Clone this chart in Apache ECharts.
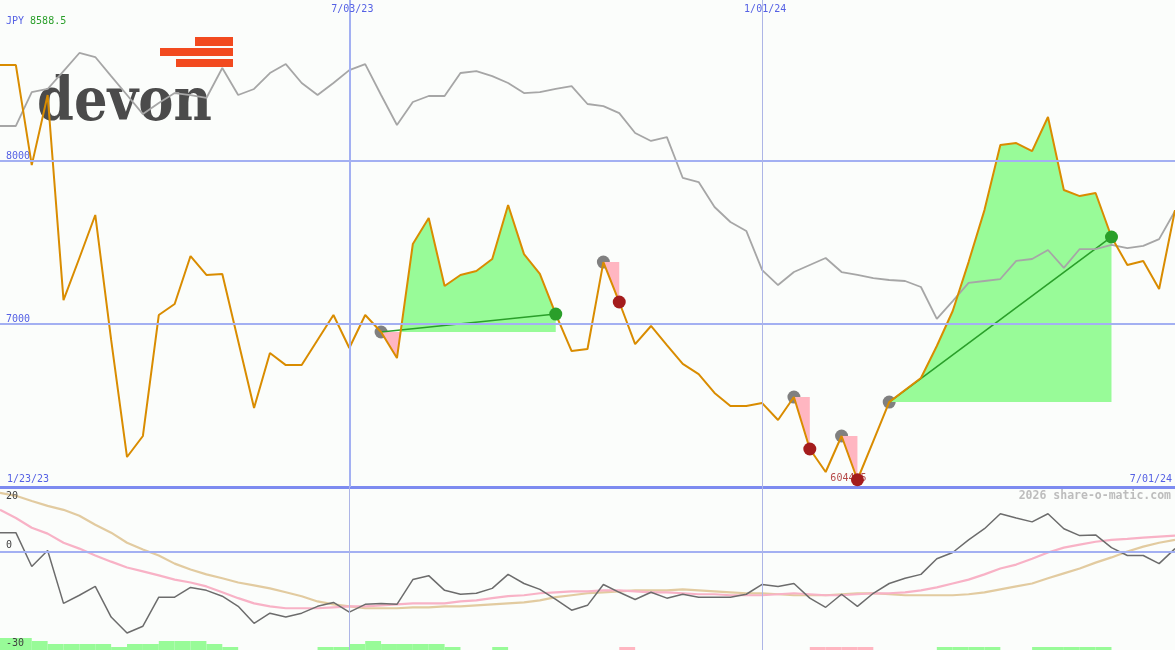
<!DOCTYPE html>
<html>
<head>
<meta charset="utf-8">
<script src="https://cdn.jsdelivr.net/npm/echarts@6.0.0/dist/echarts.min.js"></script>
<style>
html,body{margin:0;padding:0;background:#fbfdfb;}
#chart{width:1175px;height:650px;}
</style>
</head>
<body>
<div id="chart"></div>
<script>
// ---------------- data ----------------
const currency = 'JPY';
const startLabel = '1/23/23';
const endLabel = '7/01/24';
const dateLabels = ['7/03/23', '1/01/24'];
const dateLabelIndex = [22, 48];
const priceTicks = [7000, 8000];
const oscTicks = [20, 0, -30];
const watermark = '2026 share-o-matic.com';
const logoText = 'devon';

const price = [8588.5, 8588.5, 7975, 8405, 7147, 7405, 7669, 6902, 6184, 6313,
  7055, 7123, 7417, 7301, 7307, 6896, 6485, 6822, 6748, 6748,
  6902, 7055, 6853, 7055, 6951, 6791, 7491, 7650, 7233, 7301,
  7325, 7399, 7730, 7429, 7307, 7061, 6834, 6847, 7380, 7135,
  6877, 6988, 6871, 6755, 6693, 6577, 6497, 6497, 6515, 6411,
  6552, 6233, 6092, 6313, 6044.5, 6282, 6521, 6595, 6669, 6865,
  7080, 7380, 7699, 8098, 8110, 8061, 8270, 7822, 7785, 7804,
  7534, 7362, 7387, 7215, 7699];

const compare = [8215, 8215, 8423, 8442, 8552, 8663, 8638, 8521, 8405, 8288,
  8356, 8417, 8405, 8387, 8571, 8405, 8442, 8540, 8595, 8479,
  8405, 8479, 8558, 8595, 8405, 8221, 8362, 8399, 8399, 8540,
  8552, 8521, 8479, 8417, 8423, 8442, 8460, 8350, 8337, 8294,
  8172, 8123, 8147, 7896, 7871, 7718, 7626, 7571, 7331, 7239,
  7319, 7362, 7405, 7319, 7301, 7282, 7270, 7264, 7227, 7031,
  7141, 7252, 7264, 7276, 7387, 7399, 7454, 7344, 7460, 7460,
  7485, 7466, 7479, 7521, 7693];

const momentum = [6.0, 6.0, -4.4, 0.5, -15.7, -13.2, -10.5, -19.9, -24.8, -22.7,
  -13.8, -13.8, -10.8, -11.7, -13.5, -16.6, -21.8, -18.7, -19.9, -18.7,
  -16.6, -15.4, -18.4, -16.0, -15.7, -16.0, -8.4, -7.2, -11.7, -12.9,
  -12.6, -11.1, -6.8, -9.6, -11.4, -14.5, -17.8, -16.3, -9.9, -12.3,
  -14.5, -12.3, -14.1, -12.9, -13.8, -13.8, -13.8, -12.9, -9.9, -10.5,
  -9.6, -14.1, -16.9, -12.9, -16.6, -12.6, -9.6, -8.0, -6.8, -2.0,
  -0.1, 3.8, 7.2, 11.8, 10.5, 9.3, 11.8, 7.2, 5.1, 5.3,
  1.4, -1.0, -1.0, -3.5, 1.1];

const momentumFast = [13.0, 10.5, 7.5, 5.7, 2.9, 1.1, -1.0, -2.9, -4.7, -5.9,
  -7.1, -8.4, -9.3, -10.5, -12.3, -14.1, -15.7, -16.6, -17.2, -17.2,
  -17.2, -16.9, -16.6, -16.6, -16.3, -16.0, -15.7, -15.7, -15.7, -15.1,
  -14.8, -14.1, -13.5, -13.2, -12.6, -12.3, -12.0, -12.0, -11.7, -11.7,
  -12.0, -12.3, -12.3, -12.6, -12.9, -12.9, -13.2, -13.2, -13.2, -12.9,
  -12.6, -12.9, -13.2, -13.2, -12.9, -12.6, -12.6, -12.3, -11.7, -10.8,
  -9.6, -8.4, -6.8, -5.0, -3.8, -2.0, -0.1, 1.4, 2.3, 3.2,
  3.8, 4.1, 4.5, 4.8, 5.1];

const momentumSlow = [18.2, 17.3, 15.7, 14.2, 13.0, 11.2, 8.4, 6.0, 2.9, 0.8,
  -1.0, -3.5, -5.3, -6.8, -8.0, -9.3, -10.2, -11.1, -12.3, -13.5,
  -15.1, -16.0, -16.6, -17.2, -17.2, -17.2, -16.9, -16.9, -16.6, -16.6,
  -16.3, -16.0, -15.7, -15.4, -14.8, -13.8, -13.2, -12.6, -12.3, -12.0,
  -11.7, -11.7, -11.7, -11.4, -11.7, -12.0, -12.3, -12.6, -12.6, -12.9,
  -13.2, -13.2, -13.2, -12.9, -12.6, -12.6, -12.9, -13.2, -13.2, -13.2,
  -13.2, -12.9, -12.3, -11.4, -10.5, -9.6, -8.0, -6.5, -5.0, -3.2,
  -1.6, 0.2, 1.7, 2.9, 3.8];

// one value per week interval: + = bullish (green), - = bearish (pink)
const signalBars = [4, 4, 3, 2, 2, 2, 2, 1, 2, 2, 3, 3, 3, 2, 1,
  0, 0, 0, 0, 0, 1, 1, 2, 3, 2, 2, 2, 2, 1, 0, 0, 1,
  0, 0, 0, 0, 0, 0, 0, -1, 0, 0, 0, 0, 0, 0, 0, 0, 0, 0, 0,
  -1, -1, -1, -1, 0, 0, 0, 0, 1, 1, 1, 1, 0, 0, 1, 1, 1, 1, 1, 0, 0, 0, 0];

const tradeEntry = [24, 38, 50, 53, 56];
const tradeExit = [35, 39, 51, 54, 70];

// ---------------- styles ----------------
const C = {
  bg: '#fbfdfb',
  grid: '#a3b0f2',
  grid2: '#adb5e6',
  axis: '#7d8bf0',
  label: '#5561e4',
  green: '#2a9f2a',
  red: '#a41c1c',
  orange: '#d98c00',
  gray: '#a6a6a6',
  entry: '#808080',
  profitFill: '#98fb98',
  lossFill: '#ffb6c1',
  mom: '#6c6c6c',
  fast: '#f8b2c6',
  slow: '#e2cba0',
  dark: '#404040',
  wm: '#bdbdbd'
};
const MONO = '"DejaVu Sans Mono", monospace';
const N = price.length - 1;
const xy = a => a.map((v, i) => [i, v]);
const maxPrice = Math.max(...price);
const minPrice = Math.min(...price);
const minIdx = price.indexOf(minPrice);

function tradeRender(params, api) {
  const k = params.dataIndex;
  const a = tradeEntry[k], b = tradeExit[k], base = price[a];
  const pts = [];
  for (let i = a; i <= b; i++) {
    if (i > a) {
      const v0 = price[i - 1], v1 = price[i];
      if ((v0 - base) * (v1 - base) < 0) {
        const t = (base - v0) / (v1 - v0);
        pts.push([i - 1 + t, base]);
      }
    }
    pts.push([i, price[i]]);
  }
  const close = arr => arr.concat([[b, base], [a, base]]).map(p => api.coord(p));
  const up = pts.map(p => [p[0], Math.max(p[1], base)]);
  const dn = pts.map(p => [p[0], Math.min(p[1], base)]);
  const children = [
    { type: 'polygon', shape: { points: close(up) }, style: { fill: C.profitFill } },
    { type: 'polygon', shape: { points: close(dn) }, style: { fill: C.lossFill } }
  ];
  if (price[b] > base) {
    const p0 = api.coord([a, base]), p1 = api.coord([b, price[b]]);
    children.push({ type: 'line', shape: { x1: p0[0], y1: p0[1], x2: p1[0], y2: p1[1] },
      style: { stroke: C.green, lineWidth: 1.6 } });
  }
  return { type: 'group', children };
}

const noAxis = { axisLine: { show: false }, axisTick: { show: false }, splitLine: { show: false } };

const option = {
  backgroundColor: C.bg,
  animation: false,
  title: {
    left: 6, top: 16, padding: 0,
    text: '{a|' + currency + '} {b|' + maxPrice.toFixed(1) + '}',
    textStyle: {
      fontFamily: MONO, fontSize: 10, fontWeight: 'normal',
      rich: {
        a: { color: C.label, fontFamily: MONO, fontSize: 10 },
        b: { color: C.green, fontFamily: MONO, fontSize: 10 }
      }
    }
  },
  grid: [
    { left: 0, right: 0, top: 0, height: 487 },
    { left: 0, right: 0, top: 487, height: 163 },
    { left: 0, right: 0, top: 638, height: 12 }
  ],
  xAxis: [
    { gridIndex: 0, type: 'value', min: 0, max: N,
      axisLine: { show: true, onZero: false, lineStyle: { color: C.axis, width: 3 } },
      axisTick: { show: false }, axisLabel: { show: false }, splitLine: { show: false } },
    { gridIndex: 1, type: 'value', min: 0, max: N, show: false },
    { gridIndex: 2, type: 'category', data: signalBars.map((_, i) => i), show: false }
  ],
  yAxis: [
    { gridIndex: 0, type: 'value', position: 'left', min: 6000, max: 8988, interval: 1000, ...noAxis,
      axisLabel: { inside: true, margin: 6, verticalAlign: 'bottom', color: C.label,
        fontFamily: MONO, fontSize: 10,
        formatter: v => priceTicks.includes(v) ? String(v) : '' } },
    { gridIndex: 1, type: 'value', position: 'left', offset: 0, min: -30, max: 20, interval: 10, ...noAxis, z: 10,
      axisLabel: { inside: true, margin: 6, verticalAlign: 'bottom', padding: [0, 0, 2, 0], color: C.dark,
        fontFamily: MONO, fontSize: 10,
        formatter: v => (v !== oscTicks[0] && oscTicks.includes(v)) ? String(v) : '' } },
    { gridIndex: 1, type: 'value', position: 'left', offset: 0, min: -30, max: 20, interval: 10, ...noAxis, z: 10,
      axisLabel: { inside: true, margin: 6, verticalAlign: 'top', padding: [4, 0, 0, 0], color: C.dark,
        fontFamily: MONO, fontSize: 10,
        formatter: v => v === oscTicks[0] ? String(v) : '' } },
    { gridIndex: 2, type: 'value', min: 0, max: 4, show: false }
  ],
  series: [
    { name: 'mainGrid', type: 'line', xAxisIndex: 0, yAxisIndex: 0, data: [], z: 0, silent: true,
      markLine: { silent: true, symbol: 'none', label: { show: false }, animation: false,
        data: priceTicks.map(v => ({ yAxis: v, lineStyle: { color: C.grid, width: 2, type: 'solid' } }))
          .concat(dateLabelIndex.map((x, k) => ({ xAxis: x,
            lineStyle: { color: k === 0 ? C.grid : C.grid2, width: k === 0 ? 2 : 1, type: 'solid' } }))) } },
    { name: 'entries', type: 'scatter', xAxisIndex: 0, yAxisIndex: 0, z: 1, symbolSize: 13,
      itemStyle: { color: C.entry, opacity: 1 },
      data: tradeEntry.map(i => [i, price[i]]) },
    { name: 'trades', type: 'custom', xAxisIndex: 0, yAxisIndex: 0, z: 2,
      renderItem: tradeRender,
      encode: { x: [0, 2], y: [1, 3] },
      data: tradeEntry.map((a, k) => [a, price[a], tradeExit[k], price[tradeExit[k]]]) },
    { name: 'compare', type: 'line', xAxisIndex: 0, yAxisIndex: 0, z: 3, showSymbol: false,
      lineStyle: { color: C.gray, width: 1.8 }, data: xy(compare) },
    { name: 'price', type: 'line', xAxisIndex: 0, yAxisIndex: 0, z: 4, showSymbol: false,
      lineStyle: { color: C.orange, width: 2 }, data: xy(price) },
    { name: 'minLabel', type: 'scatter', xAxisIndex: 0, yAxisIndex: 0, z: 4, symbolSize: 1,
      itemStyle: { color: 'rgba(0,0,0,0)' },
      label: { show: true, position: 'inside', offset: [-9, -1], color: C.red,
        fontFamily: MONO, fontSize: 10, formatter: () => String(minPrice) },
      data: [[minIdx, minPrice]] },
    { name: 'exits', type: 'scatter', xAxisIndex: 0, yAxisIndex: 0, z: 5, symbolSize: 13,
      data: tradeExit.map((i, k) => ({ value: [i, price[i]],
        itemStyle: { color: price[i] > price[tradeEntry[k]] ? C.green : C.red, opacity: 1 } })) },

    { name: 'oscGrid', type: 'line', xAxisIndex: 1, yAxisIndex: 1, data: [], z: 0, silent: true,
      markLine: { silent: true, symbol: 'none', label: { show: false }, animation: false,
        data: [{ yAxis: 0, lineStyle: { color: C.grid, width: 2, type: 'solid' } }]
          .concat(dateLabelIndex.map(x => ({ xAxis: x, lineStyle: { color: C.grid2, width: 1, type: 'solid' } }))) } },
    { name: 'slow', type: 'line', xAxisIndex: 1, yAxisIndex: 1, z: 2, showSymbol: false,
      lineStyle: { color: C.slow, width: 2.2 }, data: xy(momentumSlow) },
    { name: 'fast', type: 'line', xAxisIndex: 1, yAxisIndex: 1, z: 3, showSymbol: false,
      lineStyle: { color: C.fast, width: 2.2 }, data: xy(momentumFast) },
    { name: 'momentum', type: 'line', xAxisIndex: 1, yAxisIndex: 1, z: 4, showSymbol: false,
      lineStyle: { color: C.mom, width: 1.5 }, data: xy(momentum) },
    { name: 'signal', type: 'bar', xAxisIndex: 2, yAxisIndex: 3, z: 1, barWidth: '100%',
      data: signalBars.map(v => ({ value: Math.abs(v),
        itemStyle: { color: v >= 0 ? C.profitFill : C.lossFill } })) }
  ]
};

const chart = echarts.init(document.getElementById('chart'));
chart.setOption(option);

const px = i => chart.convertToPixel({ xAxisIndex: 0 }, i);
const txt = (text, x, y, color, align, extra) => ({
  type: 'text', x, y, z: 20, silent: true,
  style: Object.assign({ text, fill: color, font: '10px ' + MONO, align, verticalAlign: 'middle' }, extra || {})
});
const graphics = [
  // logo
  { type: 'rect', x: 195, y: 37, shape: { width: 38, height: 9 }, style: { fill: '#f24a1f' }, z: -1 },
  { type: 'rect', x: 160, y: 48, shape: { width: 73, height: 8 }, style: { fill: '#f24a1f' }, z: -1 },
  { type: 'rect', x: 176, y: 59, shape: { width: 57, height: 8 }, style: { fill: '#f24a1f' }, z: -1 },
  { type: 'text', x: 37, y: 104, scaleX: 0.88, z: -1, silent: true,
    style: { text: logoText, fill: '#4b4b4b', font: 'bold 60px "DejaVu Serif", serif', align: 'left', verticalAlign: 'middle' } },
  txt(startLabel, 7, 479, C.label, 'left'),
  txt(endLabel, 1172, 479, C.label, 'right'),
  txt(watermark, 1171, 496, C.wm, 'right', { font: 'bold 11.5px ' + MONO })
].concat(dateLabels.map((t, k) => txt(t, px(dateLabelIndex[k]) + 3, 9, C.label, 'center')));
chart.setOption({ graphic: graphics });
</script>
</body>
</html>
